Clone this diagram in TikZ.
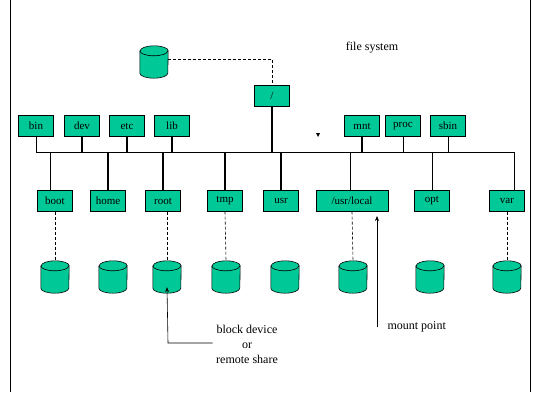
\documentclass[tikz,border=0pt]{standalone}
\usepackage{fontspec}
\setmainfont{Liberation Serif}
\usetikzlibrary{shapes.geometric,arrows.meta}
\definecolor{fsg}{HTML}{00C896}
\newcommand{\mycyl}[2]{%
  \node[minimum width=28pt,minimum height=32pt,inner sep=0pt] (#1) at (#2) {};
  \filldraw[fill=fsg,line width=0.6pt] ([yshift=-5pt]#1.north west) -- ([yshift=5pt]#1.south west)
     arc[start angle=180,end angle=360,x radius=14pt,y radius=5pt]
     -- ([yshift=-5pt]#1.north east)
     arc[start angle=0,end angle=180,x radius=14pt,y radius=5pt] -- cycle;
  \draw[line width=0.6pt] ([yshift=-5pt]#1.north west) arc[start angle=180,end angle=360,x radius=14pt,y radius=5pt];
}
\begin{document}
\begin{tikzpicture}[x=1pt,y=-1pt,
 box/.style={draw,fill=fsg,minimum height=21pt,minimum width=35pt,inner sep=1pt,font=\fontsize{11}{12}\selectfont},
 thick/.style={line width=1.6pt},
 thin/.style={line width=0.6pt},
 dsh/.style={densely dashed,line width=0.6pt},
 txt/.style={font=\fontsize{12}{15}\selectfont,align=center}]
\useasboundingbox (0,0) rectangle (540,405);
\draw[thin] (10,0) -- (10,392);
\draw[thin] (530,0) -- (530,392);
\node[txt] (title) at (372,48) {file system};
\mycyl{c0}{154,62}
\node[box] (root) at (272,96) {/};
\foreach \n/\t/\x in {bin/bin/36,dev/dev/82,etc/etc/127,lib/lib/172,mnt/mnt/362,proc/proc/403,sbin/sbin/448}
  \node[box] (\n) at (\x,126) {\t};
\foreach \n/\t/\x in {boot/boot/55,home/home/108,rt/root/163,tmp/tmp/225,usr/usr/281,opt/opt/432,var/var/507}
  \node[box] (\n) at (\x,201) {\t};
\node[box,minimum width=72pt] (ul) at (352,201) {/usr/local};
\coordinate (busL) at (36,152);
\coordinate (busR) at (514,152);
\draw[thin] (busL) -- (busR);
\foreach \n in {bin,proc,sbin} \draw[thin] (\n.south) -- (\n.south|-busL);
\foreach \n in {dev,etc,lib,mnt} \draw[thick] (\n.south) -- (\n.south|-busL);
\draw[thick] (root.south) -- (root.south|-busL);
\draw[thin] ([xshift=-5pt]boot.north) -- ([xshift=-5pt]boot.north|-busL);
\foreach \n in {home,rt,tmp,usr} \draw[thick] (\n.north) -- (\n.north|-busL);
\draw[thin] ([xshift=-2pt]ul.north) -- ([xshift=-2pt]ul.north|-busL);
\draw[thin] (opt.north) -- (opt.north|-busL);
\draw[thin] ([xshift=7pt]var.north) -- ([xshift=7pt]var.north|-busL);
\draw[dsh] (c0.east|-0,59) -| (root.north);
\foreach \n/\x in {d1/55,d2/113,d3/167,d4/226,d5/285,d6/353,d7/430,d8/507}
  {\mycyl{\n}{\x,277}}
\draw[dsh] (boot.south) -- (d1.north);
\draw[dsh] ([xshift=4pt]rt.south) -- (d3.north);
\draw[dsh] (tmp.south) -- (d4.north);
\draw[dsh] (ul.south) -- (d6.north);
\draw[dsh] (var.south) -- (d8.north);
\node[txt] (bd) at (247,344) {block device\\or\\remote share};
\coordinate (bk) at (168,343);
\draw[thin,-{Stealth[length=5pt,width=4pt]}] (bd.west|-bk) -- (bk) -- ([yshift=6pt]d3.south);
\node[txt,anchor=west] (mp) at (384,327) {mount point};
\coordinate (mb) at (377,327);
\draw[thin,-{Stealth[length=5pt,width=4pt]}] (mb) -- (377,216);
\fill (316,133) -- (320,133) -- (318,137) -- cycle;
\end{tikzpicture}
\end{document}
